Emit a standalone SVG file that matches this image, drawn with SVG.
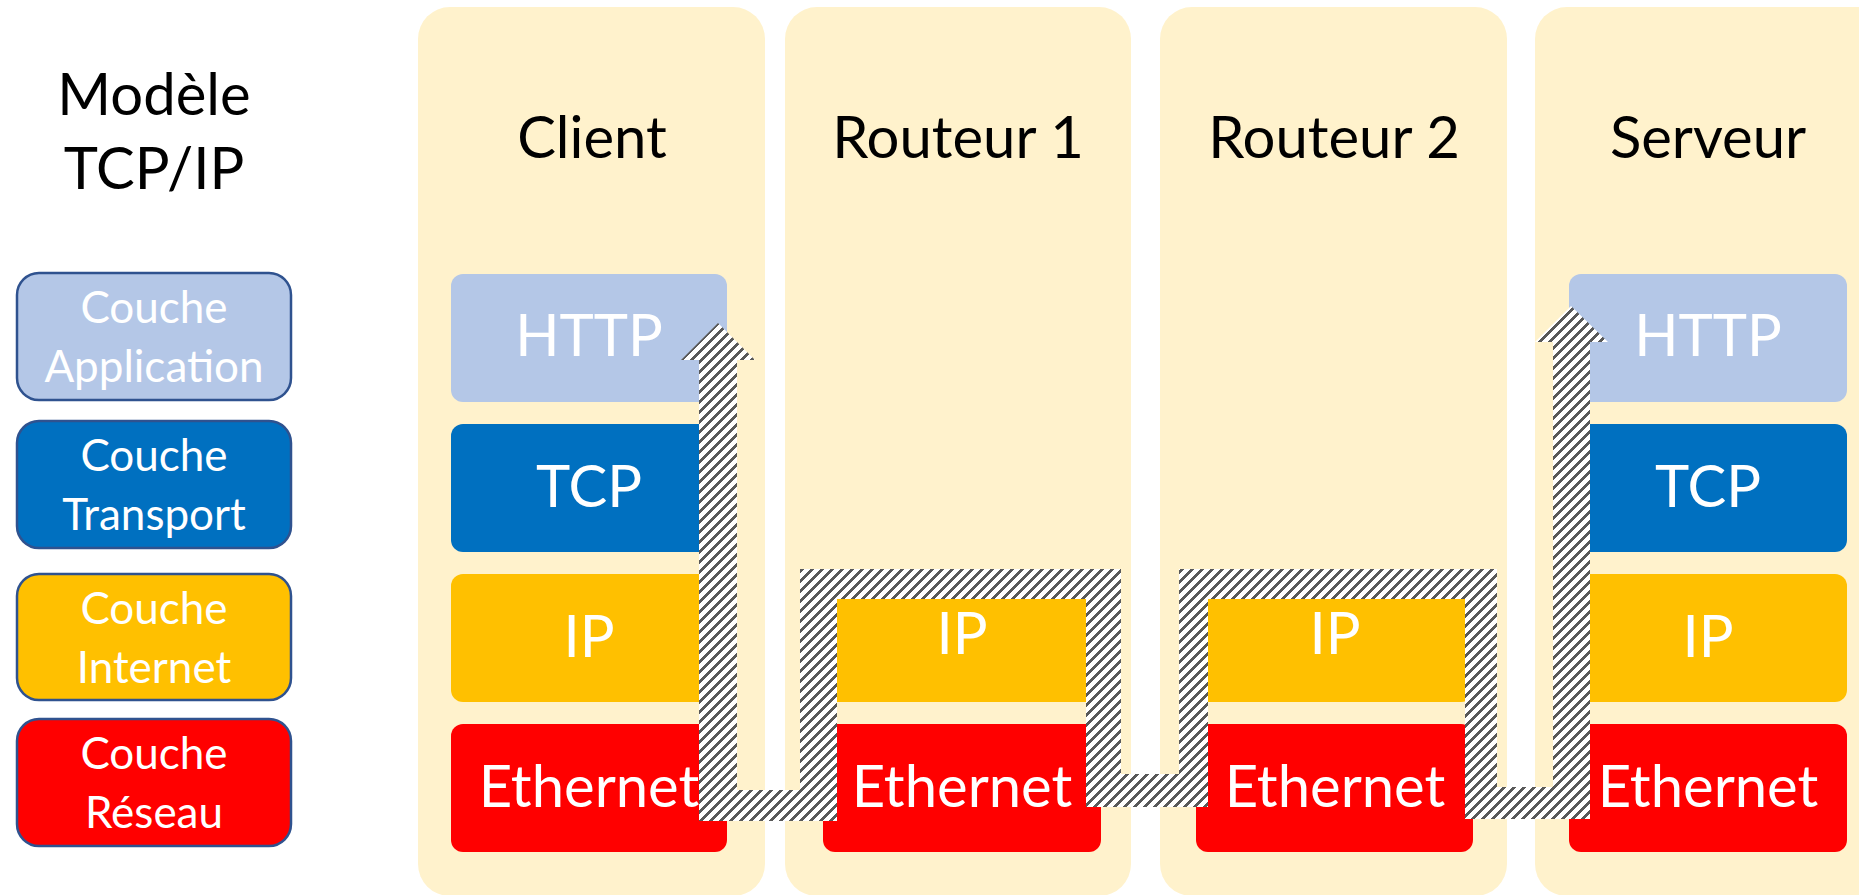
<svg xmlns="http://www.w3.org/2000/svg" width="1859" height="895" viewBox="0 0 1859 895">
  <style>
    .col { fill: #FFF2CC; }
    .http { fill: #B4C7E7; }
    .tcp { fill: #0070C0; }
    .ip { fill: #FFC000; }
    .eth { fill: #FF0000; }
    .lay { font-family: Lato, "Liberation Sans", sans-serif; font-size: 58px; fill: #FFFFFF; text-anchor: middle; }
    .title { font-family: Lato, "Liberation Sans", sans-serif; font-size: 58px; fill: #000000; text-anchor: middle; }
    .leg { stroke: #2F528F; stroke-width: 2.5; }
    .legt { font-family: Lato, "Liberation Sans", sans-serif; font-size: 44px; fill: #FFFFFF; text-anchor: middle; }
    .hatch { fill: url(#stripes); }
  </style>
  <defs>
    <pattern id="stripes" patternUnits="userSpaceOnUse" x="0" y="0" width="10" height="10">
      <g shape-rendering="crispEdges">
        <rect x="0" y="0" width="10" height="10" fill="#FFFFFF"/>
        <g fill="#595959">
          <rect x="9" y="0" width="1" height="1"/>
          <rect x="0" y="0" width="3" height="1"/>
          <rect x="8" y="1" width="2" height="1"/>
          <rect x="0" y="1" width="2" height="1"/>
          <rect x="7" y="2" width="3" height="1"/>
          <rect x="0" y="2" width="1" height="1"/>
          <rect x="6" y="3" width="4" height="1"/>
          <rect x="5" y="4" width="4" height="1"/>
          <rect x="4" y="5" width="4" height="1"/>
          <rect x="3" y="6" width="4" height="1"/>
          <rect x="2" y="7" width="4" height="1"/>
          <rect x="1" y="8" width="4" height="1"/>
          <rect x="0" y="9" width="4" height="1"/>
        </g>
      </g>
    </pattern>
  </defs>
  <rect x="0" y="0" width="1859" height="895" fill="#FFFFFF"/>

  <g id="titre">
    <text class="title" x="154" y="115">Modèle</text>
    <text class="title" x="154" y="189">TCP/IP</text>
  </g>

  <g id="legende-application">
    <rect class="leg http" x="17" y="273" width="274" height="127" rx="22"/>
    <text class="legt" x="154" y="323">Couche</text>
    <text class="legt" x="154" y="382">Application</text>
  </g>
  <g id="legende-transport">
    <rect class="leg tcp" x="17" y="421" width="274" height="127" rx="22"/>
    <text class="legt" x="154" y="471">Couche</text>
    <text class="legt" x="154" y="530">Transport</text>
  </g>
  <g id="legende-internet">
    <rect class="leg ip" x="17" y="574" width="274" height="126" rx="22"/>
    <text class="legt" x="154" y="624">Couche</text>
    <text class="legt" x="154" y="683">Internet</text>
  </g>
  <g id="legende-reseau">
    <rect class="leg eth" x="17" y="719" width="274" height="127" rx="22"/>
    <text class="legt" x="154" y="769">Couche</text>
    <text class="legt" x="154" y="828">Réseau</text>
  </g>

  <g id="client">
    <rect class="col" x="418" y="7" width="347" height="889" rx="32"/>
    <text class="title" x="592" y="158">Client</text>
    <rect class="http" x="451" y="274" width="276" height="128" rx="12"/>
    <text class="lay" x="589" y="356">HTTP</text>
    <rect class="tcp" x="451" y="424" width="276" height="128" rx="12"/>
    <text class="lay" x="589" y="507">TCP</text>
    <rect class="ip" x="451" y="574" width="276" height="128" rx="12"/>
    <text class="lay" x="589" y="657">IP</text>
    <rect class="eth" x="451" y="724" width="276" height="128" rx="12"/>
    <text class="lay" x="589" y="807">Ethernet</text>
  </g>

  <g id="routeur1">
    <rect class="col" x="785" y="7" width="346" height="889" rx="32"/>
    <text class="title" x="958" y="158">Routeur 1</text>
    <rect class="ip" x="823" y="574" width="278" height="128" rx="12"/>
    <text class="lay" x="962" y="654">IP</text>
    <rect class="eth" x="823" y="724" width="278" height="128" rx="12"/>
    <text class="lay" x="962" y="807">Ethernet</text>
  </g>

  <g id="routeur2">
    <rect class="col" x="1160" y="7" width="347" height="889" rx="32"/>
    <text class="title" x="1334" y="158">Routeur 2</text>
    <rect class="ip" x="1196" y="574" width="277" height="128" rx="12"/>
    <text class="lay" x="1335" y="654">IP</text>
    <rect class="eth" x="1196" y="724" width="277" height="128" rx="12"/>
    <text class="lay" x="1335" y="807">Ethernet</text>
  </g>

  <g id="serveur">
    <rect class="col" x="1535" y="7" width="360" height="889" rx="32"/>
    <text class="title" x="1708" y="158">Serveur</text>
    <rect class="http" x="1569" y="274" width="278" height="128" rx="12"/>
    <text class="lay" x="1708" y="356">HTTP</text>
    <rect class="tcp" x="1569" y="424" width="278" height="128" rx="12"/>
    <text class="lay" x="1708" y="507">TCP</text>
    <rect class="ip" x="1569" y="574" width="278" height="128" rx="12"/>
    <text class="lay" x="1708" y="657">IP</text>
    <rect class="eth" x="1569" y="724" width="278" height="128" rx="12"/>
    <text class="lay" x="1708" y="807">Ethernet</text>
  </g>

  <g id="connecteurs">
    <polygon class="hatch" points="718,323 755,360 737,360 737,790 800,790 800,569 1121,569 1121,774 1179,774 1179,569 1497,569 1497,787 1553,787 1553,342 1535,342 1571,306 1608,342 1590,342 1590,819 1465,819 1465,599 1208,599 1208,807 1086,807 1086,599 837,599 837,821 699,821 699,360 681,360"/>
  </g>
</svg>
